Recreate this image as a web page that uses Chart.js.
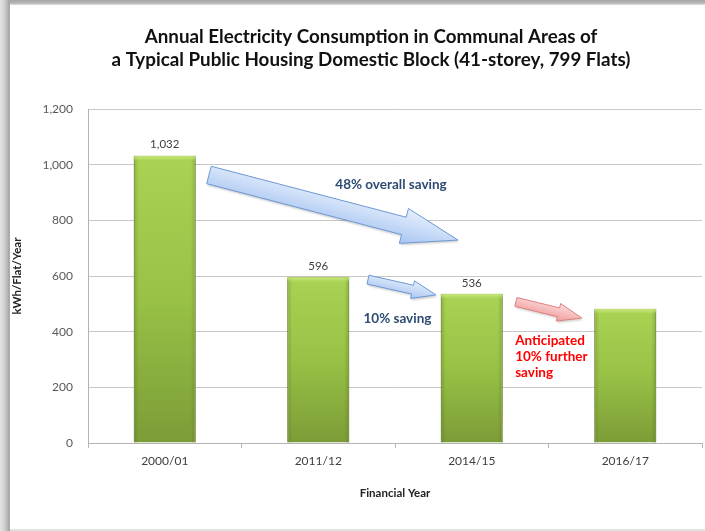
<!DOCTYPE html>
<html><head><meta charset="utf-8">
<script src="https://cdn.jsdelivr.net/npm/chart.js@4.4.0/dist/chart.umd.min.js"></script>
<style>
html,body{margin:0;padding:0;background:#fff;}
#wrap{position:relative;width:705px;height:531px;overflow:hidden;background:#fff;}
#leftbar{position:absolute;left:0;top:0;width:10px;height:531px;background:linear-gradient(to right,#e4e4e4 0,#d2d2d2 4px,#bcbcbc 7px,#a4a4a4 9px,#b0b0b0 10px);}
#topbar{position:absolute;left:10px;top:0;width:695px;height:5px;background:linear-gradient(to bottom,#a6a6a6 0,#b4b4b4 3px,#e2e2e2 5px);}
#botline{position:absolute;left:10px;top:529px;width:695px;height:2px;background:#e2e2e2;}
#cv{position:absolute;left:10px;top:5px;}
</style></head>
<body>
<div id="wrap">
<div id="leftbar"></div><div id="topbar"></div><div id="botline"></div>
<canvas id="cv" width="695" height="524"></canvas>
</div>
<script>
const categories = ['2000/01', '2011/12', '2014/15', '2016/17'];
const consumption = [1032, 596, 536, 482];
const valueLabels = ['1,032', '596', '536', ''];
const yTicks = [0, 200, 400, 600, 800, 1000, 1200];
const titleLines = ['Annual Electricity Consumption in Communal Areas of',
                    'a Typical Public Housing Domestic Block (41-storey, 799 Flats)'];
const yTitle = 'kWh/Flat/Year';
const xTitle = 'Financial Year';
// annotation arrows in data coordinates [category index, value]
const arrowFrom = [[0.288, 963], [1.324, 587], [2.288, 507]];
const arrowTo   = [[1.911, 729], [1.767, 532], [2.717, 449]];
const arrowKind = ['blue', 'blue', 'red'];
const noteTexts = [['48% overall saving'], ['10% saving'], ['Anticipated', '10% further', 'saving']];
const noteAt = [[1.474, 927], [1.516, 446], [2.283, 366]];
const noteKind = ['blue', 'blue', 'red'];

const FONT = 'Lato, "Open Sans", sans-serif';

function barFill(ctx) {
  const chart = ctx.chart;
  if (!chart.chartArea || ctx.dataIndex === undefined) return '#96bf45';
  const y = chart.scales.y;
  const top = y.getPixelForValue(consumption[ctx.dataIndex]);
  const bot = y.getPixelForValue(0);
  const g = chart.ctx.createLinearGradient(0, top, 0, bot);
  g.addColorStop(0, '#aad354');
  g.addColorStop(0.5, '#98c146');
  g.addColorStop(1, '#7c9c37');
  return g;
}

const decorPlugin = {
  id: 'decor',
  afterDatasetsDraw(chart) {
    const c = chart.ctx;
    const xs = chart.scales.x, ys = chart.scales.y;
    const meta = chart.getDatasetMeta(0);
    meta.data.forEach((bar, i) => {
      const l = bar.x - bar.width / 2, r = bar.x + bar.width / 2;
      const g = c.createLinearGradient(l, 0, r, 0);
      g.addColorStop(0, 'rgba(70,95,20,0.30)');
      g.addColorStop(0.08, 'rgba(70,95,20,0)');
      g.addColorStop(0.92, 'rgba(70,95,20,0)');
      g.addColorStop(1, 'rgba(70,95,20,0.30)');
      c.save();
      c.fillStyle = g;
      c.fillRect(l, bar.y, bar.width, bar.base - bar.y);
      const tg = c.createLinearGradient(0, bar.y, 0, bar.y + 5);
      tg.addColorStop(0, 'rgba(205,235,130,0.9)');
      tg.addColorStop(1, 'rgba(205,235,130,0)');
      c.fillStyle = tg;
      c.fillRect(l, bar.y, bar.width, 5);
      c.restore();
      if (valueLabels[i]) {
        c.save();
        c.font = '11.5px ' + FONT;
        c.fillStyle = '#404040';
        c.textAlign = 'center';
        c.textBaseline = 'middle';
        c.fillText(valueLabels[i], bar.x, bar.y - 11);
        c.restore();
      }
    });
    arrowFrom.forEach((f, i) => {
      const t = arrowTo[i];
      const x0 = xs.getPixelForValue(f[0]), y0 = ys.getPixelForValue(f[1]);
      const x1 = xs.getPixelForValue(t[0]), y1 = ys.getPixelForValue(t[1]);
      const dx = x1 - x0, dy = y1 - y0, len = Math.hypot(dx, dy);
      const ux = dx / len, uy = dy / len, nx = -uy, ny = ux;
      const big = len > 150;
      const w = big ? 9 : 4.5, h = big ? 18 : 9, hl = big ? 56 : 24;
      const hx = x1 - ux * hl, hy = y1 - uy * hl;
      const pts = [[x0 + nx * w, y0 + ny * w], [hx + nx * w, hy + ny * w], [hx + nx * h, hy + ny * h],
                   [x1, y1], [hx - nx * h, hy - ny * h], [hx - nx * w, hy - ny * w], [x0 - nx * w, y0 - ny * w]];
      c.save();
      c.beginPath();
      pts.forEach((p, k) => k ? c.lineTo(p[0], p[1]) : c.moveTo(p[0], p[1]));
      c.closePath();
      const g = c.createLinearGradient(x0 + nx * h, y0 + ny * h, x0 - nx * h, y0 - ny * h);
      if (arrowKind[i] === 'blue') {
        g.addColorStop(0, '#a9c6f2'); g.addColorStop(1, '#e6effc');
        c.strokeStyle = '#6c98d4';
      } else {
        g.addColorStop(0, '#f19a9a'); g.addColorStop(1, '#fbdede');
        c.strokeStyle = '#e07f7f';
      }
      c.shadowColor = 'rgba(0,0,0,0.18)';
      c.shadowOffsetX = 1; c.shadowOffsetY = 2; c.shadowBlur = 2;
      c.fillStyle = g;
      c.fill();
      c.shadowColor = 'rgba(0,0,0,0)';
      c.lineWidth = 1;
      c.stroke();
      c.restore();
    });
    noteTexts.forEach((lines, i) => {
      const x = xs.getPixelForValue(noteAt[i][0]), y = ys.getPixelForValue(noteAt[i][1]);
      c.save();
      c.font = 'bold 13.5px ' + FONT;
      c.fillStyle = noteKind[i] === 'blue' ? '#2e4b74' : '#ff0000';
      c.textAlign = lines.length > 1 ? 'left' : 'center';
      c.textBaseline = 'middle';
      lines.forEach((s, k) => c.fillText(s, x, y + k * 16));
      c.restore();
    });
  },
  afterDraw(chart) {
    const c = chart.ctx;
    c.save();
    c.font = 'bold 18.8px ' + FONT;
    c.fillStyle = '#111111';
    c.textAlign = 'center';
    c.textBaseline = 'middle';
    titleLines.forEach((s, k) => c.fillText(s, 361, 32 + k * 23));
    c.restore();
  }
};

new Chart(document.getElementById('cv'), {
  type: 'bar',
  data: {
    labels: categories,
    datasets: [{
      data: consumption,
      backgroundColor: barFill,
      borderColor: '#6e8f2c',
      borderWidth: 1,
      categoryPercentage: 0.8,
      barPercentage: 0.505
    }]
  },
  options: {
    responsive: false,
    animation: false,
    devicePixelRatio: 1,
    layout: { padding: { top: 104, right: 3, left: 0, bottom: 0 } },
    plugins: { legend: { display: false }, tooltip: { enabled: false }, title: { display: false } },
    scales: {
      x: {
        grid: { drawOnChartArea: false, drawTicks: true, tickLength: 5, color: '#b4b4b4', offset: true },
        border: { color: '#b4b4b4' },
        ticks: { color: '#404040', font: { family: FONT, size: 12 }, padding: 6 },
        title: { display: true, text: xTitle, color: '#222', font: { family: FONT, size: 11.5, weight: 'bold' }, padding: { top: 0, bottom: 29 } },
        afterFit(s) { s.height = 86; }
      },
      y: {
        min: 0, max: 1200,
        afterBuildTicks(s) { s.ticks = yTicks.map(v => ({ value: v })); },
        grid: { color: '#c8c8c8', drawTicks: false },
        border: { color: '#b4b4b4' },
        ticks: { color: '#595959', font: { family: FONT, size: 12 }, padding: 15,
                 callback: v => v.toLocaleString('en-US') },
        title: { display: true, text: yTitle, color: '#222', font: { family: FONT, size: 11.5, weight: 'bold' }, padding: { top: 0, bottom: 0 } },
        afterFit(s) { s.width = 78; }
      }
    }
  },
  plugins: [decorPlugin]
});
</script>
</body></html>
